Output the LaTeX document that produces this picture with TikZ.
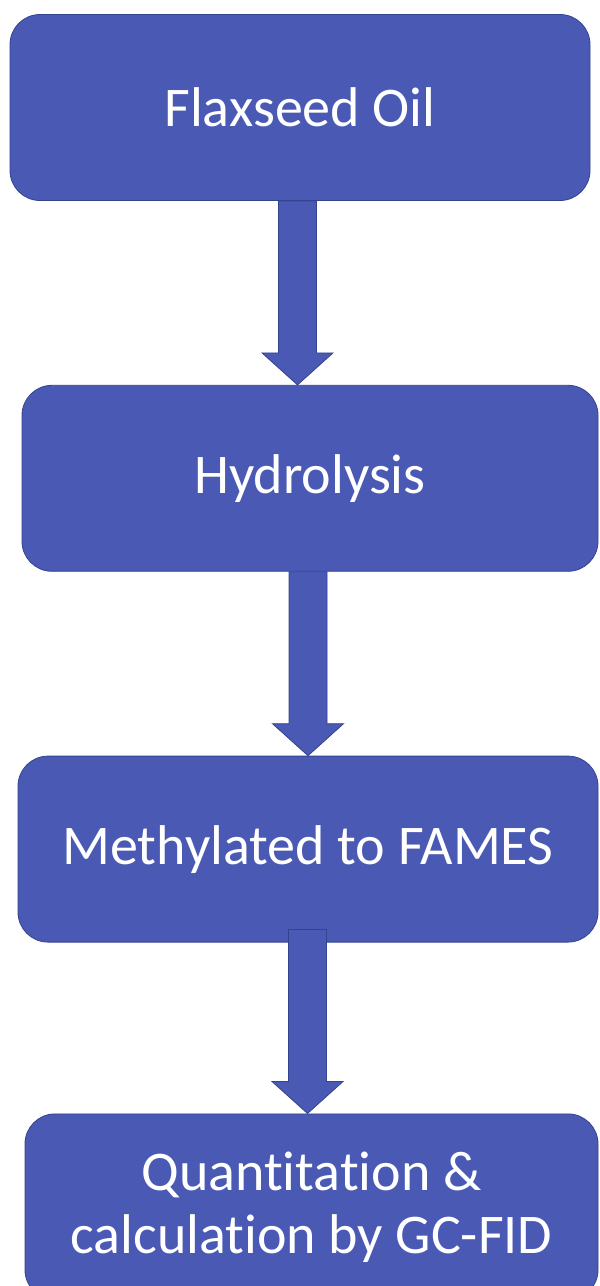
\documentclass[tikz,border=0pt]{standalone}
\usepackage{fontspec}
\setmainfont{Carlito}[Ligatures=NoCommon]
\usetikzlibrary{positioning,calc}
\definecolor{stepfill}{HTML}{4A5AB4}
\definecolor{stepline}{HTML}{34438F}
\tikzset{
  box/.style={draw=stepline, fill=stepfill, line width=0.8pt, rounded corners=30pt,
              align=center, text=white, minimum height=186pt, inner sep=0pt,
              font=\fontsize{56}{63}\selectfont},
  flow/.style={draw=stepline, fill=stepfill, line width=0.8pt},
}
% block arrow: [start shift]{from}{to}{x}
\newcommand\flowarrow[4][0]{%
  \draw[flow] ($(#4,0 |- #2.south)+(-19,-#1)$) -- ($(#4,0 |- #3.north)+(-19,-32)$)
    -- ($(#4,0 |- #3.north)+(-35.5,-32)$) -- (#4,0 |- #3.north)
    -- ($(#4,0 |- #3.north)+(35.5,-32)$) -- ($(#4,0 |- #3.north)+(19,-32)$)
    -- ($(#4,0 |- #2.south)+(19,-#1)$) -- cycle;}

\begin{document}
\begin{tikzpicture}[x=1pt, y=-1pt, node distance=184pt]
  \useasboundingbox (0,0) rectangle (600,1286);
  \node[box, minimum width=580pt] (oil) at (300,107.5) {Flaxseed Oil};
  \node[box, minimum width=576pt, below=of oil, xshift=10pt] (hyd) {Hydrolysis};
  \node[box, minimum width=580pt, below=of hyd, xshift=-2pt] (meth) {Methylated to FAMES};
  \node[box, minimum width=573pt, below=171pt of meth, xshift=3.5pt] (quant)
    {Quantitation \&\\calculation by GC-FID};
  \flowarrow{oil}{hyd}{297.5}
  \flowarrow{hyd}{meth}{308}
  \flowarrow[13]{meth}{quant}{307.5}
\end{tikzpicture}
\end{document}
